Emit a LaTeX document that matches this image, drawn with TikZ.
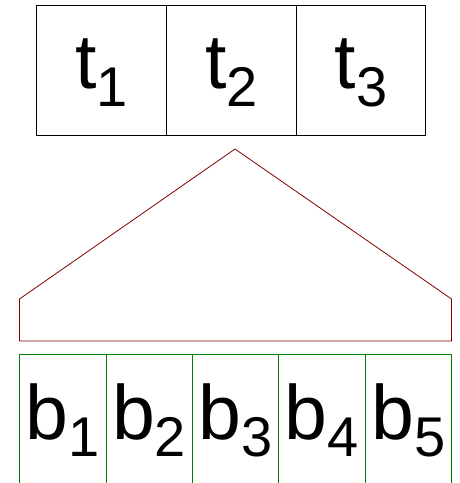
\documentclass[tikz,border=0pt]{standalone}
\usepackage{fontspec}
\setmainfont{Liberation Sans}
\usepackage{xcolor}
\usetikzlibrary{positioning}

\definecolor{roofred}{RGB}{128,0,0}
\definecolor{cellgreen}{RGB}{0,128,0}

% letter with a lowered subscript
\newcommand\sublab[2]{#1\raisebox{-18pt}{\fontsize{56}{56}\selectfont #2}}

\begin{document}
\begin{tikzpicture}[x=1pt,y=1pt,
    labfont/.style={font=\fontsize{77}{77}\selectfont,text height=56pt,text depth=18pt,inner sep=0pt,outer sep=0pt},
    tcell/.style={labfont,draw,line width=0.8pt,minimum width=129.67pt,minimum height=130pt},
    bcell/.style={labfont,minimum width=86.4pt,minimum height=132pt}]
    \useasboundingbox (0,0) rectangle (459,483);
    \clip (0,0) rectangle (459,483);

    % top cells
    \node[tcell] (t1) at (101.7,413) {\sublab{t}{1}};
    \node[tcell,right=0pt of t1] (t2) {\sublab{t}{2}};
    \node[tcell,right=0pt of t2] (t3) {\sublab{t}{3}};

    % roof
    \coordinate (apex) at (235,334);
    \coordinate (sl) at (19.5,184);
    \coordinate (sr) at (451.5,184);
    \coordinate (bl) at (19.5,142);
    \coordinate (br) at (451.5,142);
    \draw[roofred,line width=0.8pt] (bl) -- (sl) -- (apex) -- (sr) -- (br) -- cycle;

    % bottom cells
    \node[bcell,anchor=north west] (b1) at (19.5,129) {\sublab{b}{1}};
    \foreach \i [count=\j from 2] in {1,...,4}
        \node[bcell,right=0pt of b\i] (b\j) {\sublab{b}{\j}};

    % bottom cell lines (open at the bottom)
    \draw[cellgreen,line width=0.8pt] (b1.north west) -- (b5.north east);
    \foreach \i in {1,...,5}
        \draw[cellgreen,line width=0.8pt] (b\i.north west) -- (b\i.south west);
    \draw[cellgreen,line width=0.8pt] (b5.north east) -- (b5.south east);

\end{tikzpicture}
\end{document}
